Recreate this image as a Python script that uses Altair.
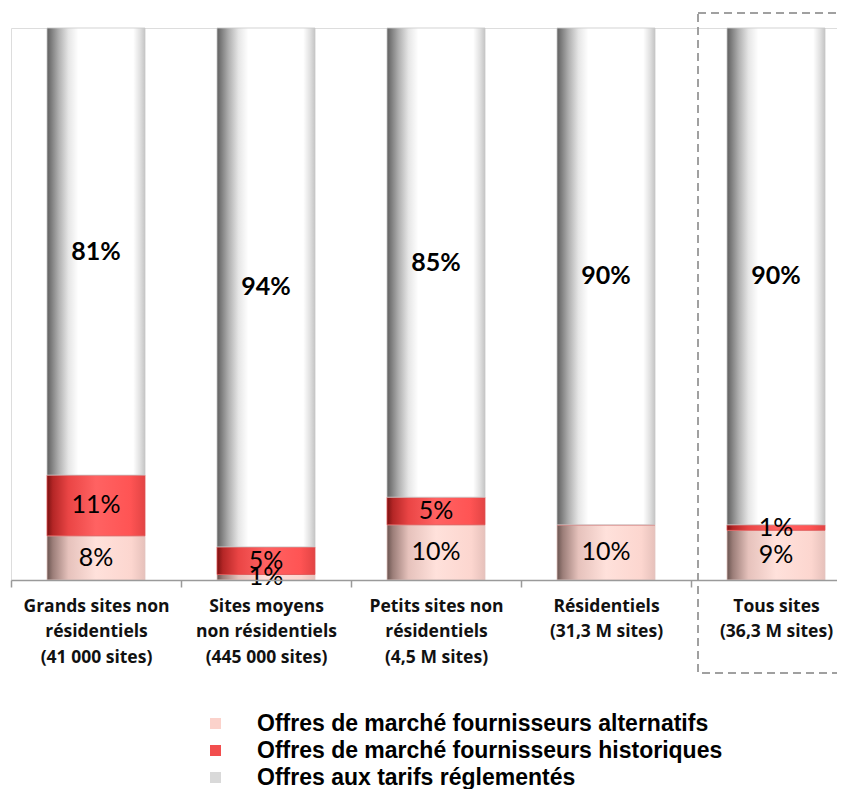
import altair as alt
import pandas as pd

categories = [
    "Grands sites non\nrésidentiels\n(41 000 sites)",
    "Sites moyens\nnon résidentiels\n(445 000 sites)",
    "Petits sites non\nrésidentiels\n(4,5 M sites)",
    "Résidentiels\n(31,3 M sites)",
    "Tous sites\n(36,3 M sites)",
]
series_names = [
    "Offres de marché fournisseurs alternatifs",
    "Offres de marché fournisseurs historiques",
    "Offres aux tarifs réglementés",
]
alternatifs = [8, 1, 10, 10, 9]
historiques = [11, 5, 5, 0, 1]
reglementes = [81, 94, 85, 90, 90]
legend_colors = ["#fbd2cb", "#f24e4e", "#d9d9d9"]

rows = []
for i, cat in enumerate(categories):
    start = 0.0
    for s, vals in zip(series_names, [alternatifs, historiques, reglementes]):
        v = vals[i] / 100.0
        rows.append({"cat": cat, "series": s, "value": vals[i],
                     "start": start, "end": start + v, "mid": start + v / 2,
                     "label": f"{vals[i]}%"})
        start += v
df = pd.DataFrame(rows)

def grad(stops):
    return alt.Gradient(gradient="linear", x1=0, x2=1, y1=0, y2=0,
                        stops=[alt.GradientStop(offset=o, color=c) for o, c in stops])

grad_gray = grad([(0, "#606060"), (0.04, "#7a7a7a"), (0.12, "#b0b0b0"), (0.22, "#e6e6e6"),
                  (0.32, "#ffffff"), (0.88, "#ffffff"), (0.95, "#e0e0e0"), (1, "#c4c4c4")])
grad_red = grad([(0, "#7a1212"), (0.06, "#b42626"), (0.22, "#ea4545"), (0.5, "#ff6262"),
                 (0.85, "#ff5454"), (1, "#e24444")])
grad_pink = grad([(0, "#6a5450"), (0.06, "#9c7e79"), (0.22, "#e6c2bc"), (0.5, "#ffe1db"),
                  (0.86, "#fcd6cf"), (1, "#e6c1bb")])

xenc = alt.X("cat:N", sort=categories,
             scale=alt.Scale(range=[0, 850], paddingInner=0, paddingOuter=0),
             axis=alt.Axis(title=None, labelAngle=0, labelExpr="split(datum.label, '\\n')",
                           labelFont="Open Sans", labelFontSize=17.5, labelFontWeight="bold",
                           labelColor="#111111", labelLineHeight=25.5, labelPadding=10,
                           labelLimit=0, tickBand="extent", tickSize=7, tickColor="#9a9a9a",
                           domainColor="#9a9a9a", domainWidth=1.5, tickWidth=1.5, grid=False))
yscale = alt.Scale(domain=[0, 1], nice=False, zero=True)

base = alt.Chart(df)

box = alt.Chart(pd.DataFrame({"cat": [categories[-1]]})).mark_rect(
    xOffset=7, fillOpacity=0, stroke="#a0a0a0", strokeWidth=2, strokeDash=[8, 5]
).encode(x=xenc, y=alt.value(-15), y2=alt.value(645))

layers = [box]
for s, g, stroke in zip(series_names, [grad_pink, grad_red, grad_gray],
                        ["#e3c6c1", "#e05050", "#c8c8c8"]):
    layers.append(
        base.transform_filter(alt.datum.series == s).mark_bar(
            width=98, fill=g, stroke=stroke, strokeWidth=1, strokeOpacity=0.8
        ).encode(x=xenc, y=alt.Y("start:Q", scale=yscale, axis=None), y2="end:Q")
    )

txt_small = base.transform_filter(
    (alt.datum.series != series_names[2]) & (alt.datum.value > 0)
).mark_text(font="Lato", fontSize=25, color="#000000", baseline="middle").encode(
    x=xenc, y=alt.Y("mid:Q", scale=yscale, axis=None), text="label:N")
txt_big = base.transform_filter(alt.datum.series == series_names[2]).mark_text(
    font="Lato", fontSize=25, fontWeight="bold", color="#000000", baseline="middle"
).encode(x=xenc, y=alt.Y("mid:Q", scale=yscale, axis=None), text="label:N")
layers += [txt_small, txt_big]

legend_layer = base.mark_square(opacity=0, size=0).encode(
    x=xenc, y=alt.Y("mid:Q", scale=yscale, axis=None),
    color=alt.Color("series:N", sort=series_names,
                    scale=alt.Scale(domain=series_names, range=legend_colors),
                    legend=alt.Legend(title=None, orient="none", legendX=193, legendY=684,
                                      symbolType="square", symbolSize=121, symbolOpacity=1,
                                      symbolStrokeWidth=0, labelFont="Liberation Sans",
                                      labelFontSize=23, labelFontWeight="bold",
                                      labelColor="#000000", labelOffset=30, rowPadding=3,
                                      padding=0, labelLimit=0)))
layers.append(legend_layer)

chart = alt.layer(*layers).properties(
    width=826, height=552,
    padding={"left": 3, "top": 20, "right": 0, "bottom": 209},
    autosize=alt.AutoSizeParams(type="none"),
).configure_view(stroke=None).configure(background="#ffffff")

chart.save("out.html", embed_options={"renderer": "svg", "actions": False})
